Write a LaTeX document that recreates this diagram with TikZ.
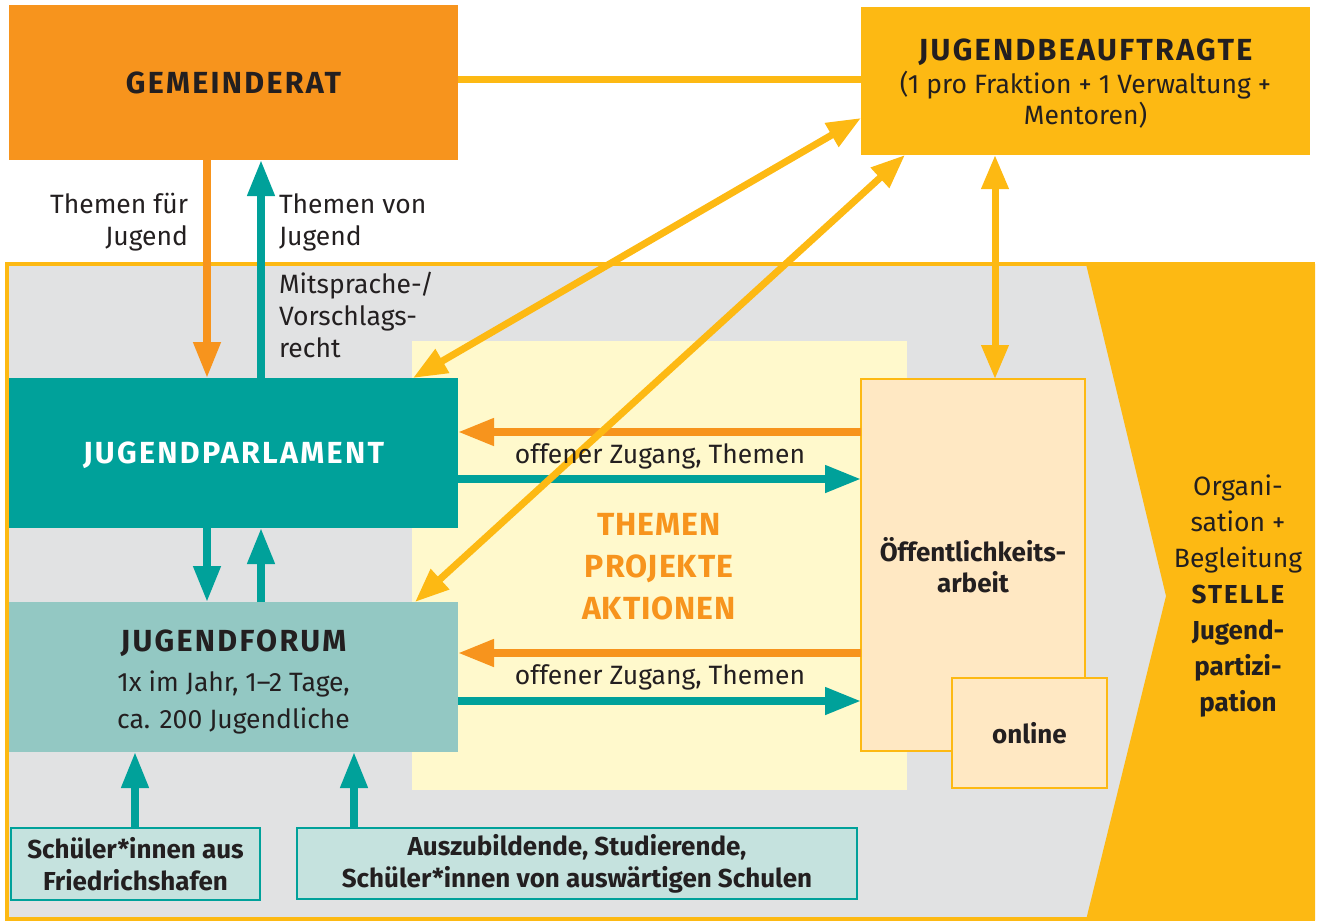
\documentclass[tikz,border=0pt]{standalone}
\usepackage{fontspec}
\setmainfont{Fira Sans}
\usetikzlibrary{arrows.meta}
\definecolor{corange}{HTML}{F7941D}
\definecolor{cyellow}{HTML}{FDB913}
\definecolor{cteal}{HTML}{00A19A}
\definecolor{cltteal}{HTML}{93C8C3}
\definecolor{cpaleteal}{HTML}{C5E2DE}
\definecolor{cgray}{HTML}{E1E2E3}
\definecolor{cltyellow}{HTML}{FFF9CC}
\definecolor{cpeach}{HTML}{FFE8C3}
\definecolor{ctext}{HTML}{231F20}
\newcommand\ttlfont{\bfseries\fontsize{30.5}{32}\selectfont\addfontfeatures{LetterSpace=7.5}}
\newcommand\regfontb[1]{\fontsize{26.5}{#1}\selectfont}
\newcommand\bldfontb[1]{\bfseries\fontsize{26}{#1}\selectfont}
\tikzset{
  box/.style={rectangle, inner sep=0pt, outer sep=0pt, align=center, text=ctext, anchor=north west},
  lbl/.style={inner sep=0pt, outer sep=0pt, text=ctext, font=\regfontb{32}},
  conn/.style={line width=7.5pt},
  oarrow/.style={conn, draw=corange, -{Triangle[length=36pt, width=26pt]}},
  tarrow/.style={conn, draw=cteal, -{Triangle[length=36pt, width=26pt]}},
  yarrow/.style={line width=7pt, draw=cyellow, {Triangle[length=34pt, width=26pt]}-{Triangle[length=34pt, width=26pt]}},
}
\begin{document}
\begin{tikzpicture}[x=1pt,y=-1pt]
\useasboundingbox (0,0) rectangle (1319,922);
% big frame
\node[box, fill=cgray, draw=cyellow, line width=4pt, minimum width=1306pt, minimum height=655pt] (frame) at (7,264) {};
\fill[cyellow] (1086,264) -- (1315,264) -- (1315,920) -- (1086,920) -- (1166,596) -- cycle;
\node[box, fill=cltyellow, minimum width=495pt, minimum height=449pt] (area) at (412,341) {};

% boxes
\node[box, fill=corange, minimum width=449pt, minimum height=155pt, font=\ttlfont, text depth=0pt] (gem) at (9,5) {GEMEINDERAT};
\node[box, fill=cyellow, minimum width=449pt, minimum height=148pt, font=\regfontb{31}] (jb) at (861,7)
  {\rule{0pt}{26pt}{\ttlfont JUGENDBEAUFTRAGTE}\\[2pt](1 pro Fraktion + 1 Verwaltung +\\Mentoren)};
\node[box, fill=cteal, text=white, minimum width=449pt, minimum height=150pt, font=\ttlfont, text depth=0pt] (jp) at (9,378) {JUGENDPARLAMENT};
\node[box, fill=cltteal, minimum width=449pt, minimum height=150pt, font=\regfontb{37}] (jf) at (9,602)
  {\rule{0pt}{31pt}{\ttlfont JUGENDFORUM}\\[3pt]1x im Jahr, 1–2 Tage,\\ca. 200 Jugendliche};
\node[box, fill=cpeach, draw=cyellow, line width=2.5pt, minimum width=224pt, minimum height=372pt, font=\bldfontb{31}] (oa) at (861,379)
  {Öffentlichkeits-\\arbeit};
\node[box, fill=cpeach, draw=cyellow, line width=2.5pt, minimum width=155pt, minimum height=110pt, font=\bldfontb{32}] (on) at (952,678) {online};
\node[box, fill=cpaleteal, draw=cteal, line width=2.5pt, minimum width=249pt, minimum height=72pt, font=\bldfontb{32}] (sf) at (11,828)
  {Schüler*innen aus\\Friedrichshafen};
\node[box, fill=cpaleteal, draw=cteal, line width=2.5pt, minimum width=560pt, minimum height=71pt, font=\bldfontb{32}] (az) at (297,828)
  {Auszubildende, Studierende,\\Schüler*innen von auswärtigen Schulen};

% texts
\node[lbl, align=center, text=corange, font=\bfseries\fontsize{32}{42}\selectfont\addfontfeatures{LetterSpace=3}] (thm) at (659,567) {THEMEN\\PROJEKTE\\AKTIONEN};
\node[lbl, align=center, font=\regfontb{36}] (org) at (1238,596)
  {Organi-\\sation +\\Begleitung\\{\bldfontb{36}\addfontfeatures{LetterSpace=8}STELLE}\\{\bldfontb{36}Jugend-}\\{\bldfontb{36}partizi-}\\{\bldfontb{36}pation}};
\node[lbl, align=right, anchor=east] (tf) at (188,222) {Themen für\\Jugend};
\node[lbl, align=left, anchor=west] (tv) at (279,222) {Themen von\\Jugend};
\node[lbl, align=left, anchor=west] (ms) at (279,315) {Mitsprache-/\\Vorschlags-\\recht};

% connectors
\draw[line width=7pt, cyellow] (gem.east |- 0,79) -- (jb.west |- 0,79);
\draw[oarrow] ([xshift=198pt]gem.south west) -- ([xshift=198pt]jp.north west);
\draw[tarrow] ([xshift=252pt]jp.north west) -- ([xshift=252pt]gem.south west);
\draw[tarrow] ([xshift=198pt]jp.south west) -- ([xshift=198pt]jf.north west);
\draw[tarrow] ([xshift=252pt]jf.north west) -- ([xshift=252pt]jp.south west);
\draw[tarrow] ([xshift=124pt]sf.north west) -- ([xshift=126pt]jf.south west);
\draw[tarrow] ([xshift=57pt]az.north west) -- ([xshift=345pt]jf.south west);

\draw[oarrow] (oa.west |- 0,432) -- (jp.east |- 0,432);
\draw[tarrow] (jp.east |- 0,479) -- (oa.west |- 0,479);
\draw[oarrow] (oa.west |- 0,653) -- (jf.east |- 0,653);
\draw[tarrow] (jf.east |- 0,701) -- (oa.west |- 0,701);

\draw[yarrow] ([yshift=-111pt]jb.north west) -- ([xshift=404pt]jp.north west);
\draw[yarrow] ([xshift=44pt]jb.south west) -- ([xshift=406pt]jf.north west);
\draw[yarrow] ([xshift=134pt]jb.south west) -- ([xshift=134pt]oa.north west);

\node[lbl] (l1) at (660,456) {offener Zugang, Themen};
\node[lbl] (l2) at (660,677) {offener Zugang, Themen};
\end{tikzpicture}
\end{document}
